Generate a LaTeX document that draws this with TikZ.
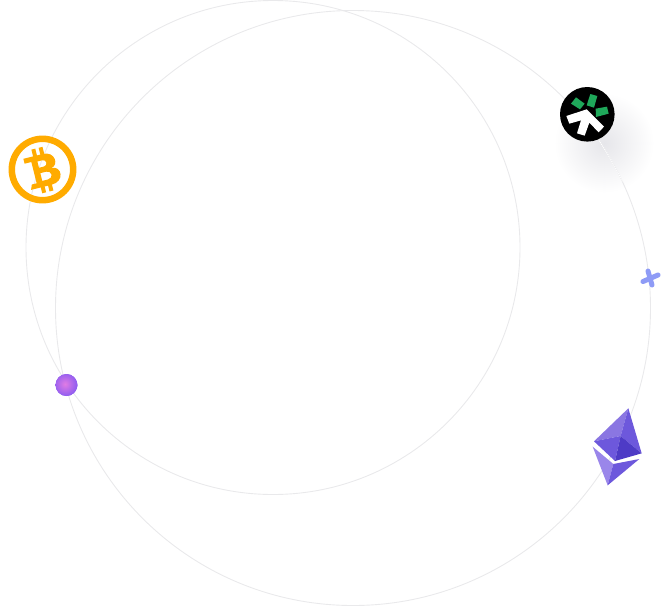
\documentclass[tikz,border=0pt]{standalone}
\usepackage{tikz}
\definecolor{orbitgray}{HTML}{E9E9EB}
\definecolor{coinorange}{HTML}{FFAB00}
\definecolor{tokengreen}{HTML}{1FA85A}
\definecolor{shadowgray}{HTML}{E6E6EA}
\definecolor{plusblue}{HTML}{8E9BF6}
\definecolor{ballout}{HTML}{8257F2}
\definecolor{ballin}{HTML}{E07CE4}
\definecolor{ethlight}{HTML}{8A76E2}
\definecolor{ethmid}{HTML}{6D58DC}
\definecolor{ethdark}{HTML}{4E3BC6}
\definecolor{ethpale}{HTML}{9A86EA}
\tikzset{
    orbit/.style={draw=orbitgray,line width=0.9pt},
    plusarm/.style={plusblue,line width=5pt,line cap=round},
}
\begin{document}
\begin{tikzpicture}[x=1pt,y=-1pt]
    \useasboundingbox (0,0) rectangle (672,606);

    % shadow under the black token
    \shade[inner color=shadowgray,outer color=white,draw=none] (604,143) circle[radius=50];

    \draw[orbit] (273,247.5) circle[radius=247];
    \draw[orbit] (353,308) circle[radius=297.5];
    \draw[white,line width=1pt,densely dotted] (353,308) ++(-35:297.5) arc (-35:-25:297.5);

    % bitcoin
    \draw[coinorange,line width=6.5pt] (42.5,169.5) circle[radius=30.7];
    \begin{scope}[shift={(42.5,169.5)},rotate=14]
        \fill[coinorange,even odd rule]
            (-16,-15) -- (4,-15) .. controls (17,-15) and (17,0) .. (9,0.5)
            .. controls (20,1) and (19,17) .. (5,17) -- (-16,17) -- (-14,12) -- (-9,12) -- (-9,-10) -- (-16,-10) -- cycle
            (-3,-9) -- (-3,-2.5) -- (2,-2.5) .. controls (6.5,-2.5) and (6.5,-9) .. (2,-9) -- cycle
            (-3,3) -- (-3,11) -- (3,11) .. controls (9,11) and (9,3) .. (3,3) -- cycle;
        \fill[coinorange] (-6,-22) rectangle (-2,-13);
        \fill[coinorange] (1.5,-22) rectangle (5.5,-13);
        \fill[coinorange] (-6,15) rectangle (-2,23);
        \fill[coinorange] (1.5,15) rectangle (5.5,23);
    \end{scope}

    % black token
    \fill[black] (587.3,114.3) circle[radius=27.3];
    \begin{scope}[shift={(545,75)},x=0.3333pt,y=-0.3333pt]
        \fill[tokengreen] (78,86) -- (93,67) -- (119,86) -- (105,103) -- cycle;
        \fill[tokengreen] (136,57) -- (157,63) -- (147,98) -- (125,91) -- cycle;
        \fill[tokengreen] (152,101) -- (186,95) -- (191,116) -- (153,126) -- cycle;
        \fill[white] (64,123) -- (125,103) -- (177,155) -- (161,172) -- (133,143)
            -- (119,182) -- (96,175) -- (108,136) -- (73,146) -- cycle;
    \end{scope}

    % plus
    \draw[plusarm] (643,281.5) -- (658,275);
    \draw[plusarm] (648,271) -- (652,285);

    % ball
    \begin{scope}
        \clip (66.5,385) circle[radius=11];
        \fill[ballout] (66.5,385) circle[radius=11];
        \shade[inner color=ballin,outer color=ballout,draw=none] (65,384) circle[radius=14];
    \end{scope}

    % ethereum
    \begin{scope}[shift={(580,400)},x=0.3333pt,y=-0.3333pt]
        \fill[ethlight] (145,25) -- (42,124) -- (122,108) -- cycle;
        \fill[ethmid] (145,25) -- (185,160) -- (122,108) -- cycle;
        \fill[ethmid] (42,124) -- (122,108) -- (105,183) -- cycle;
        \fill[ethdark] (122,108) -- (185,160) -- (105,183) -- cycle;
        \fill[ethpale] (38,140) -- (100,192) -- (83,256) -- cycle;
        \fill[ethmid] (100,192) -- (178,177) -- (83,256) -- cycle;
    \end{scope}
\end{tikzpicture}
\end{document}
